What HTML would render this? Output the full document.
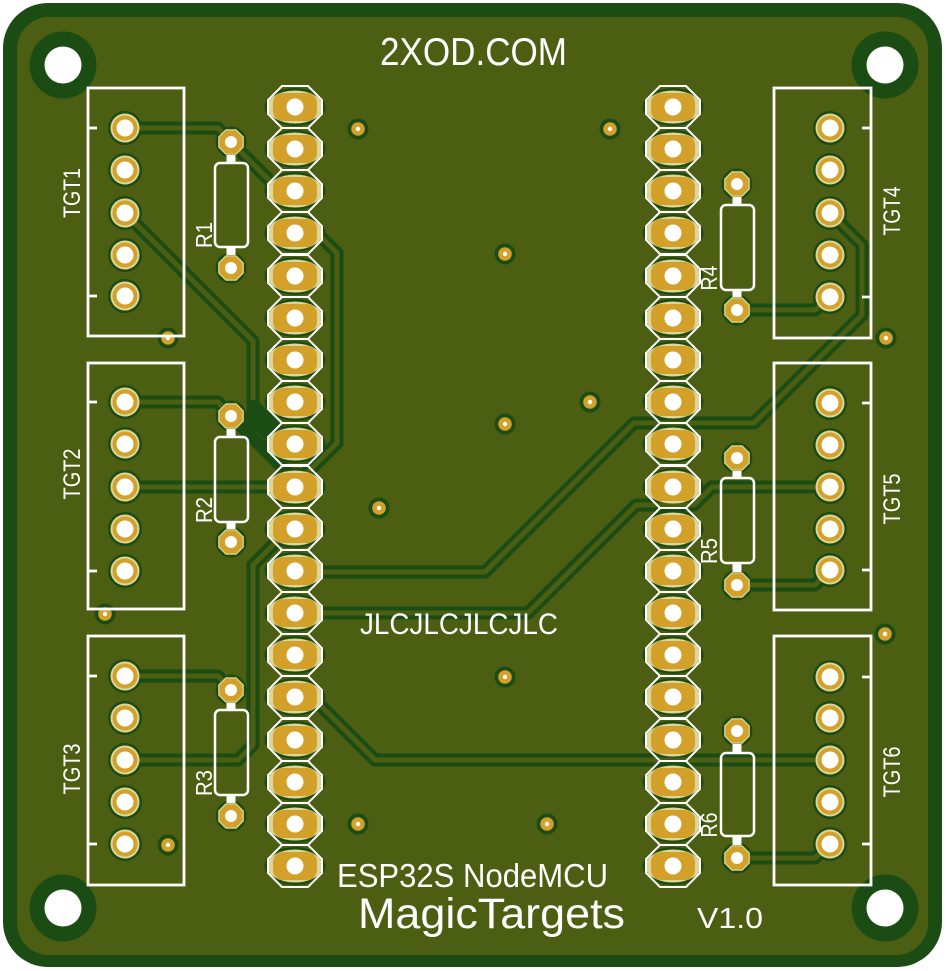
<!DOCTYPE html>
<html>
<head>
<meta charset="utf-8">
<style>
html,body{margin:0;padding:0;background:#ffffff;}
svg{display:block;}
text{font-family:"DejaVu Sans ExtraLight","Liberation Sans",sans-serif;fill:#ffffff;}
</style>
</head>
<body>
<svg width="948" height="971" viewBox="0 0 948 971" xmlns="http://www.w3.org/2000/svg">
<defs>
  <g id="hd"><ellipse rx="30.5" ry="19" fill="#1b4c13"/></g>
  <g id="hc"><ellipse rx="28" ry="16.5" fill="#ddd696"/><rect x="-22" y="-14" width="44" height="28" rx="10" fill="#d3a02a"/><circle r="8.5" fill="#ffffff"/></g>
  <g id="hs"><polygon points="-13,-21 13,-21 27,-7 27,7 13,21 -13,21 -27,7 -27,-7" fill="none" stroke="#ffffff" stroke-width="2"/></g>
  <g id="cd"><circle r="17" fill="#1b4c13"/></g>
  <g id="cc"><circle r="14.5" fill="#ddd696"/><circle r="12.5" fill="#d3a02a"/><circle r="8.5" fill="#ffffff"/></g>
  <g id="rd"><circle r="15.5" fill="#1b4c13"/></g>
  <g id="rc"><polygon points="12.8,5.3 5.3,12.8 -5.3,12.8 -12.8,5.3 -12.8,-5.3 -5.3,-12.8 5.3,-12.8 12.8,-5.3" fill="#ddd696"/><polygon points="11.5,4.8 4.8,11.5 -4.8,11.5 -11.5,4.8 -11.5,-4.8 -4.8,-11.5 4.8,-11.5 11.5,-4.8" fill="#d3a02a"/><circle r="6" fill="#ffffff"/></g>
  <g id="vd"><circle r="10.5" fill="#1b4c13"/></g>
  <g id="vc"><circle r="6.8" fill="#d3a02a"/><circle r="2.2" fill="#ffffff"/></g>
</defs>

<!-- Board -->
<rect x="3" y="3" width="939" height="964" rx="45" ry="45" fill="#1b4c13"/>
<rect x="17" y="17" width="911" height="938" rx="32" ry="32" fill="#4c5e12"/>

<!-- Mounting holes -->
<g fill="#1b4c13">
  <circle cx="63" cy="65" r="33.5"/><circle cx="885" cy="65" r="33.5"/>
  <circle cx="63" cy="908" r="33.5"/><circle cx="885" cy="908" r="33.5"/>
</g>
<g fill="#ffffff">
  <circle cx="63" cy="65" r="18.5"/><circle cx="885" cy="65" r="18.5"/>
  <circle cx="63" cy="908" r="18.5"/><circle cx="885" cy="908" r="18.5"/>
</g>

<!-- Trace clearances (dark) -->
<g fill="none" stroke="#1b4c13" stroke-width="13" stroke-linejoin="round" stroke-linecap="round">
  <path d="M125,128 H218 L231,142"/>
  <path d="M231,142 L281,192 H295"/>
  <path d="M125,213 L253,341 V402"/>
  <path d="M295,233 L317,233 L337,253 V443 L297,483"/>
  <path d="M125,402 H218 L231,416"/>
  <path d="M231,416 L283,468 L295,478"/>
  <path d="M125,487 H295"/>
  <path d="M125,676 H218 L231,690"/>
  <path d="M283,535 L253,565 V745 L238,760 H125"/>
  <path d="M300,697 H312 L375,760 H830"/>
  <path d="M830,213 L862,245 V315 L754,423 H634 L485,572 H295"/>
  <path d="M830,487 H712 L694,505 H636 L528,613 H295"/>
  <path d="M737,310 H815 L830,297"/>
  <path d="M737,585 H815 L830,570"/>
  <path d="M737,858 H815 L830,844"/>
</g>
<polygon points="247,402 259,402 288,431 284,446 274,448 246,422" fill="#1b4c13"/>

<!-- Pad clearances -->
<g>
  <use href="#hd" x="295" y="107"/><use href="#hd" x="295" y="149"/><use href="#hd" x="295" y="191"/><use href="#hd" x="295" y="233"/><use href="#hd" x="295" y="276"/><use href="#hd" x="295" y="318"/><use href="#hd" x="295" y="360"/><use href="#hd" x="295" y="402"/><use href="#hd" x="295" y="444"/><use href="#hd" x="295" y="487"/><use href="#hd" x="295" y="529"/><use href="#hd" x="295" y="571"/><use href="#hd" x="295" y="613"/><use href="#hd" x="295" y="655"/><use href="#hd" x="295" y="697"/><use href="#hd" x="295" y="740"/><use href="#hd" x="295" y="782"/><use href="#hd" x="295" y="824"/><use href="#hd" x="295" y="866"/>
  <use href="#hd" x="673" y="107"/><use href="#hd" x="673" y="149"/><use href="#hd" x="673" y="191"/><use href="#hd" x="673" y="233"/><use href="#hd" x="673" y="276"/><use href="#hd" x="673" y="318"/><use href="#hd" x="673" y="360"/><use href="#hd" x="673" y="402"/><use href="#hd" x="673" y="444"/><use href="#hd" x="673" y="487"/><use href="#hd" x="673" y="529"/><use href="#hd" x="673" y="571"/><use href="#hd" x="673" y="613"/><use href="#hd" x="673" y="655"/><use href="#hd" x="673" y="697"/><use href="#hd" x="673" y="740"/><use href="#hd" x="673" y="782"/><use href="#hd" x="673" y="824"/><use href="#hd" x="673" y="866"/>

  <use href="#cd" x="125" y="128"/><use href="#cd" x="125" y="170"/><use href="#cd" x="125" y="213"/><use href="#cd" x="125" y="255"/><use href="#cd" x="125" y="296"/>
  <use href="#cd" x="125" y="402"/><use href="#cd" x="125" y="444"/><use href="#cd" x="125" y="487"/><use href="#cd" x="125" y="529"/><use href="#cd" x="125" y="571"/>
  <use href="#cd" x="125" y="676"/><use href="#cd" x="125" y="718"/><use href="#cd" x="125" y="760"/><use href="#cd" x="125" y="802"/><use href="#cd" x="125" y="844"/>
  <use href="#cd" x="830" y="128"/><use href="#cd" x="830" y="170"/><use href="#cd" x="830" y="213"/><use href="#cd" x="830" y="255"/><use href="#cd" x="830" y="297"/>
  <use href="#cd" x="830" y="403"/><use href="#cd" x="830" y="445"/><use href="#cd" x="830" y="487"/><use href="#cd" x="830" y="529"/><use href="#cd" x="830" y="570"/>
  <use href="#cd" x="830" y="677"/><use href="#cd" x="830" y="718"/><use href="#cd" x="830" y="760"/><use href="#cd" x="830" y="802"/><use href="#cd" x="830" y="844"/>

  <use href="#rd" x="231" y="142"/><use href="#rd" x="231" y="268"/>
  <use href="#rd" x="231" y="416"/><use href="#rd" x="231" y="542"/>
  <use href="#rd" x="231" y="690"/><use href="#rd" x="231" y="816"/>
  <use href="#rd" x="737" y="184"/><use href="#rd" x="737" y="310"/>
  <use href="#rd" x="737" y="458"/><use href="#rd" x="737" y="585"/>
  <use href="#rd" x="737" y="731"/><use href="#rd" x="737" y="858"/>

  <use href="#vd" x="358" y="129"/><use href="#vd" x="610" y="129"/><use href="#vd" x="505" y="254"/><use href="#vd" x="168" y="338"/><use href="#vd" x="886" y="338"/><use href="#vd" x="590" y="402"/><use href="#vd" x="505" y="424"/><use href="#vd" x="379" y="508"/><use href="#vd" x="105" y="614"/><use href="#vd" x="885" y="634"/><use href="#vd" x="505" y="677"/><use href="#vd" x="168" y="845"/><use href="#vd" x="358" y="824"/><use href="#vd" x="547" y="824"/>
</g>

<!-- Trace copper (olive) -->
<g fill="none" stroke="#4c5e12" stroke-width="5" stroke-linejoin="round" stroke-linecap="round">
  <path d="M125,128 H218 L231,142"/>
  <path d="M231,142 L281,192 H295"/>
  <path d="M125,213 L253,341 V398"/>
  <path d="M295,233 L317,233 L337,253 V443 L297,483"/>
  <path d="M125,402 H218 L231,416"/>
  <path d="M125,487 H295"/>
  <path d="M125,676 H218 L231,690"/>
  <path d="M283,535 L253,565 V745 L238,760 H125"/>
  <path d="M300,697 H312 L375,760 H830"/>
  <path d="M830,213 L862,245 V315 L754,423 H634 L485,572 H295"/>
  <path d="M830,487 H712 L694,505 H636 L528,613 H295"/>
  <path d="M737,310 H815 L830,297"/>
  <path d="M737,585 H815 L830,570"/>
  <path d="M737,858 H815 L830,844"/>
</g>

<!-- Pad copper -->
<g>
  <use href="#hc" x="295" y="107"/><use href="#hc" x="295" y="149"/><use href="#hc" x="295" y="191"/><use href="#hc" x="295" y="233"/><use href="#hc" x="295" y="276"/><use href="#hc" x="295" y="318"/><use href="#hc" x="295" y="360"/><use href="#hc" x="295" y="402"/><use href="#hc" x="295" y="444"/><use href="#hc" x="295" y="487"/><use href="#hc" x="295" y="529"/><use href="#hc" x="295" y="571"/><use href="#hc" x="295" y="613"/><use href="#hc" x="295" y="655"/><use href="#hc" x="295" y="697"/><use href="#hc" x="295" y="740"/><use href="#hc" x="295" y="782"/><use href="#hc" x="295" y="824"/><use href="#hc" x="295" y="866"/>
  <use href="#hc" x="673" y="107"/><use href="#hc" x="673" y="149"/><use href="#hc" x="673" y="191"/><use href="#hc" x="673" y="233"/><use href="#hc" x="673" y="276"/><use href="#hc" x="673" y="318"/><use href="#hc" x="673" y="360"/><use href="#hc" x="673" y="402"/><use href="#hc" x="673" y="444"/><use href="#hc" x="673" y="487"/><use href="#hc" x="673" y="529"/><use href="#hc" x="673" y="571"/><use href="#hc" x="673" y="613"/><use href="#hc" x="673" y="655"/><use href="#hc" x="673" y="697"/><use href="#hc" x="673" y="740"/><use href="#hc" x="673" y="782"/><use href="#hc" x="673" y="824"/><use href="#hc" x="673" y="866"/>

  <use href="#cc" x="125" y="128"/><use href="#cc" x="125" y="170"/><use href="#cc" x="125" y="213"/><use href="#cc" x="125" y="255"/><use href="#cc" x="125" y="296"/>
  <use href="#cc" x="125" y="402"/><use href="#cc" x="125" y="444"/><use href="#cc" x="125" y="487"/><use href="#cc" x="125" y="529"/><use href="#cc" x="125" y="571"/>
  <use href="#cc" x="125" y="676"/><use href="#cc" x="125" y="718"/><use href="#cc" x="125" y="760"/><use href="#cc" x="125" y="802"/><use href="#cc" x="125" y="844"/>
  <use href="#cc" x="830" y="128"/><use href="#cc" x="830" y="170"/><use href="#cc" x="830" y="213"/><use href="#cc" x="830" y="255"/><use href="#cc" x="830" y="297"/>
  <use href="#cc" x="830" y="403"/><use href="#cc" x="830" y="445"/><use href="#cc" x="830" y="487"/><use href="#cc" x="830" y="529"/><use href="#cc" x="830" y="570"/>
  <use href="#cc" x="830" y="677"/><use href="#cc" x="830" y="718"/><use href="#cc" x="830" y="760"/><use href="#cc" x="830" y="802"/><use href="#cc" x="830" y="844"/>

  <use href="#rc" x="231" y="142"/><use href="#rc" x="231" y="268"/>
  <use href="#rc" x="231" y="416"/><use href="#rc" x="231" y="542"/>
  <use href="#rc" x="231" y="690"/><use href="#rc" x="231" y="816"/>
  <use href="#rc" x="737" y="184"/><use href="#rc" x="737" y="310"/>
  <use href="#rc" x="737" y="458"/><use href="#rc" x="737" y="585"/>
  <use href="#rc" x="737" y="731"/><use href="#rc" x="737" y="858"/>

  <use href="#vc" x="358" y="129"/><use href="#vc" x="610" y="129"/><use href="#vc" x="505" y="254"/><use href="#vc" x="168" y="338"/><use href="#vc" x="886" y="338"/><use href="#vc" x="590" y="402"/><use href="#vc" x="505" y="424"/><use href="#vc" x="379" y="508"/><use href="#vc" x="105" y="614"/><use href="#vc" x="885" y="634"/><use href="#vc" x="505" y="677"/><use href="#vc" x="168" y="845"/><use href="#vc" x="358" y="824"/><use href="#vc" x="547" y="824"/>
</g>

<!-- Silkscreen: header outlines -->
<g>
  <use href="#hs" x="295" y="107"/><use href="#hs" x="295" y="149"/><use href="#hs" x="295" y="191"/><use href="#hs" x="295" y="233"/><use href="#hs" x="295" y="276"/><use href="#hs" x="295" y="318"/><use href="#hs" x="295" y="360"/><use href="#hs" x="295" y="402"/><use href="#hs" x="295" y="444"/><use href="#hs" x="295" y="487"/><use href="#hs" x="295" y="529"/><use href="#hs" x="295" y="571"/><use href="#hs" x="295" y="613"/><use href="#hs" x="295" y="655"/><use href="#hs" x="295" y="697"/><use href="#hs" x="295" y="740"/><use href="#hs" x="295" y="782"/><use href="#hs" x="295" y="824"/><use href="#hs" x="295" y="866"/>
  <use href="#hs" x="673" y="107"/><use href="#hs" x="673" y="149"/><use href="#hs" x="673" y="191"/><use href="#hs" x="673" y="233"/><use href="#hs" x="673" y="276"/><use href="#hs" x="673" y="318"/><use href="#hs" x="673" y="360"/><use href="#hs" x="673" y="402"/><use href="#hs" x="673" y="444"/><use href="#hs" x="673" y="487"/><use href="#hs" x="673" y="529"/><use href="#hs" x="673" y="571"/><use href="#hs" x="673" y="613"/><use href="#hs" x="673" y="655"/><use href="#hs" x="673" y="697"/><use href="#hs" x="673" y="740"/><use href="#hs" x="673" y="782"/><use href="#hs" x="673" y="824"/><use href="#hs" x="673" y="866"/>
</g>

<!-- Silkscreen: connector boxes -->
<g fill="none" stroke="#ffffff" stroke-width="2.8">
  <rect x="88" y="88" width="96" height="248"/>
  <rect x="88" y="363" width="96" height="246"/>
  <rect x="88" y="636" width="96" height="249"/>
  <rect x="774" y="88" width="97" height="250"/>
  <rect x="774" y="363" width="97" height="247"/>
  <rect x="774" y="636" width="97" height="249"/>
  <path d="M88,128 H97 M88,296 H97 M88,402 H97 M88,571 H97 M88,676 H97 M88,844 H97"/>
  <path d="M862,128 H871 M862,297 H871 M862,403 H871 M862,570 H871 M862,677 H871 M862,844 H871"/>
</g>

<!-- Silkscreen: resistors -->
<g fill="none" stroke="#ffffff" stroke-width="2.5">
  <rect x="215" y="163" width="33" height="84" rx="5"/>
  <rect x="215" y="437" width="33" height="85" rx="5"/>
  <rect x="215" y="710" width="33" height="85" rx="5"/>
  <rect x="721" y="205" width="33" height="85" rx="5"/>
  <rect x="721" y="478" width="33" height="85" rx="5"/>
  <rect x="721" y="753" width="33" height="83" rx="5"/>
</g>
<g fill="#ffffff">
  <rect x="226.5" y="155" width="9" height="8"/><rect x="226.5" y="247" width="9" height="8"/>
  <rect x="226.5" y="429" width="9" height="8"/><rect x="226.5" y="522" width="9" height="7"/>
  <rect x="226.5" y="703" width="9" height="7"/><rect x="226.5" y="795" width="9" height="8"/>
  <rect x="732.5" y="197" width="9" height="8"/><rect x="732.5" y="290" width="9" height="7"/>
  <rect x="732.5" y="471" width="9" height="7"/><rect x="732.5" y="563" width="9" height="9"/>
  <rect x="732.5" y="744" width="9" height="9"/><rect x="732.5" y="836" width="9" height="9"/>
</g>

<!-- Silkscreen: labels -->
<g font-size="24" text-anchor="middle">
  <text transform="translate(80,193) rotate(-90)" textLength="50" lengthAdjust="spacingAndGlyphs">TGT1</text>
  <text transform="translate(80,474) rotate(-90)" textLength="51" lengthAdjust="spacingAndGlyphs">TGT2</text>
  <text transform="translate(80,769) rotate(-90)" textLength="51" lengthAdjust="spacingAndGlyphs">TGT3</text>
  <text transform="translate(900,211) rotate(-90)" textLength="49" lengthAdjust="spacingAndGlyphs">TGT4</text>
  <text transform="translate(900,499) rotate(-90)" textLength="51" lengthAdjust="spacingAndGlyphs">TGT5</text>
  <text transform="translate(900,772) rotate(-90)" textLength="51" lengthAdjust="spacingAndGlyphs">TGT6</text>
</g>
<g font-size="23" text-anchor="middle">
  <text transform="translate(212,235) rotate(-90)" textLength="26" lengthAdjust="spacingAndGlyphs">R1</text>
  <text transform="translate(212,510) rotate(-90)" textLength="26" lengthAdjust="spacingAndGlyphs">R2</text>
  <text transform="translate(212,783) rotate(-90)" textLength="26" lengthAdjust="spacingAndGlyphs">R3</text>
  <text transform="translate(717,278) rotate(-90)" textLength="25" lengthAdjust="spacingAndGlyphs">R4</text>
  <text transform="translate(717,551) rotate(-90)" textLength="26" lengthAdjust="spacingAndGlyphs">R5</text>
  <text transform="translate(717,825) rotate(-90)" textLength="25" lengthAdjust="spacingAndGlyphs">R6</text>
</g>

<text x="380" y="65" font-size="39" textLength="187" lengthAdjust="spacingAndGlyphs">2XOD.COM</text>
<text x="360" y="634" font-size="30" textLength="198" lengthAdjust="spacingAndGlyphs">JLCJLCJLCJLC</text>
<text x="337" y="887" font-size="33" textLength="271" lengthAdjust="spacingAndGlyphs">ESP32S NodeMCU</text>
<text x="358" y="928" font-size="43" textLength="267" lengthAdjust="spacingAndGlyphs">MagicTargets</text>
<text x="697" y="928" font-size="29" textLength="66" lengthAdjust="spacingAndGlyphs">V1.0</text>
</svg>
</body>
</html>
